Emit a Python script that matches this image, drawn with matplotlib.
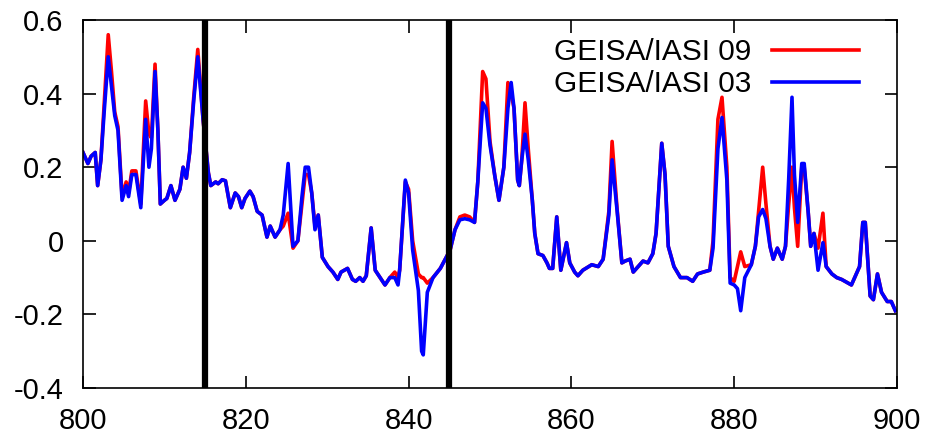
import numpy as np
import matplotlib
matplotlib.use("Agg")
import matplotlib.pyplot as plt

plt.rcParams['font.family'] = ['Liberation Sans', 'DejaVu Sans']

# wavenumber (cm-1) shared by both series
wn = [800.0, 800.6, 801.0, 801.5, 801.8, 802.2, 802.6, 803.1, 803.5, 803.9,
      804.3, 804.8, 805.3, 805.6, 806.0, 806.5, 807.1, 807.7, 808.1, 808.4,
      808.85, 809.2, 809.5, 810.0, 810.3, 810.8, 811.3, 811.9, 812.3, 812.7,
      813.1, 813.6, 814.1, 814.75, 815.4, 815.7, 816.3, 816.6, 817.1, 817.5,
      818.1, 818.7, 819.1, 819.5, 819.9, 820.5, 820.9, 821.4, 822.0, 822.6,
      823.0, 823.6, 824.2, 824.6, 825.2, 825.8, 826.4, 826.9, 827.3, 827.7,
      828.1, 828.5, 828.9, 829.4, 830.1, 830.7, 831.3, 831.7, 832.5, 833.1,
      833.5, 834.0, 834.4, 834.8, 835.4, 835.9, 836.5, 837.1, 837.7, 838.3,
      838.7, 838.9, 839.6, 840.0, 840.5, 841.2, 841.6, 841.8, 842.3, 843.0,
      843.9, 844.5, 845.1, 845.7, 846.3, 846.9, 847.5, 848.1, 848.5, 849.1,
      849.5, 850.0, 850.6, 851.1, 851.7, 852.2, 852.6, 852.95, 853.4, 853.6,
      853.9, 854.3, 854.7, 855.2, 855.5, 855.9, 856.5, 857.0, 857.3, 857.7,
      858.2, 858.7, 859.4, 859.8, 860.4, 860.8, 861.4, 862.5, 863.3, 863.9,
      864.6, 865.0, 865.6, 866.2, 866.6, 867.2, 867.6, 868.2, 868.8, 869.4,
      870.0, 870.4, 871.1, 871.5, 871.9, 872.6, 873.4, 874.2, 874.9, 875.5,
      876.2, 877.0, 877.4, 878.0, 878.5, 879.1, 879.5, 880.0, 880.4, 880.8,
      881.3, 882.1, 882.6, 883.0, 883.5, 883.9, 884.4, 884.8, 885.3, 885.9,
      886.3, 886.7, 887.1, 887.4, 887.8, 888.3, 888.6, 889.1, 889.4, 889.8,
      890.3, 890.9, 891.3, 892.0, 892.6, 893.2, 894.0, 894.4, 894.8, 895.4,
      895.8, 896.1, 896.7, 897.1, 897.6, 898.1, 898.8, 899.3, 899.8]

iasi03 = [0.24, 0.21, 0.23, 0.24, 0.15, 0.22, 0.35, 0.50, 0.42, 0.34,
          0.30, 0.11, 0.15, 0.12, 0.18, 0.18, 0.09, 0.33, 0.20, 0.25,
          0.46, 0.30, 0.10, 0.11, 0.115, 0.15, 0.11, 0.14, 0.20, 0.17,
          0.24, 0.38, 0.50, 0.33, 0.185, 0.15, 0.16, 0.155, 0.166, 0.163,
          0.09, 0.13, 0.12, 0.09, 0.115, 0.135, 0.12, 0.08, 0.07, 0.01,
          0.04, 0.01, 0.03, 0.07, 0.21, -0.015, 0.0, 0.12, 0.20, 0.20,
          0.13, 0.03, 0.07, -0.045, -0.07, -0.085, -0.105, -0.085, -0.075, -0.105,
          -0.11, -0.10, -0.11, -0.095, 0.035, -0.08, -0.10, -0.12, -0.10, -0.10,
          -0.12, -0.08, 0.165, 0.13, -0.025, -0.135, -0.30, -0.31, -0.14, -0.10,
          -0.075, -0.05, -0.025, 0.03, 0.057, 0.06, 0.057, 0.05, 0.16, 0.375,
          0.36, 0.26, 0.175, 0.11, 0.20, 0.36, 0.43, 0.36, 0.165, 0.15,
          0.22, 0.29, 0.22, 0.11, 0.02, -0.035, -0.04, -0.06, -0.075, -0.075,
          0.065, -0.08, -0.005, -0.06, -0.085, -0.095, -0.08, -0.065, -0.07, -0.05,
          0.07, 0.22, 0.085, -0.06, -0.055, -0.05, -0.085, -0.07, -0.055, -0.06,
          -0.035, 0.02, 0.265, 0.18, -0.015, -0.07, -0.10, -0.10, -0.11, -0.09,
          -0.085, -0.08, -0.02, 0.25, 0.335, 0.165, -0.115, -0.12, -0.13, -0.19,
          -0.10, -0.065, -0.015, 0.065, 0.085, 0.06, -0.015, -0.05, -0.02, -0.05,
          -0.015, 0.17, 0.39, 0.18, 0.05, 0.21, 0.21, 0.075, -0.015, 0.02,
          -0.08, -0.005, -0.07, -0.09, -0.10, -0.105, -0.115, -0.12, -0.10, -0.07,
          0.05, 0.05, -0.15, -0.16, -0.09, -0.14, -0.165, -0.165, -0.19]

iasi09 = [0.24, 0.21, 0.23, 0.24, 0.15, 0.22, 0.37, 0.56, 0.46, 0.35,
          0.31, 0.12, 0.16, 0.13, 0.19, 0.19, 0.10, 0.38, 0.29, 0.28,
          0.48, 0.30, 0.10, 0.11, 0.115, 0.15, 0.11, 0.14, 0.20, 0.17,
          0.24, 0.39, 0.52, 0.33, 0.185, 0.15, 0.16, 0.155, 0.166, 0.163,
          0.09, 0.13, 0.12, 0.09, 0.115, 0.135, 0.12, 0.08, 0.07, 0.01,
          0.04, 0.01, 0.03, 0.04, 0.075, -0.02, 0.0, 0.10, 0.18, 0.18,
          0.13, 0.04, 0.07, -0.045, -0.07, -0.085, -0.105, -0.085, -0.075, -0.105,
          -0.11, -0.10, -0.11, -0.095, 0.035, -0.08, -0.10, -0.12, -0.10, -0.085,
          -0.10, -0.08, 0.16, 0.14, 0.0, -0.09, -0.10, -0.10, -0.115, -0.10,
          -0.075, -0.05, -0.025, 0.03, 0.065, 0.07, 0.065, 0.05, 0.16, 0.46,
          0.44, 0.27, 0.175, 0.11, 0.20, 0.43, 0.40, 0.36, 0.165, 0.15,
          0.22, 0.375, 0.25, 0.11, 0.02, -0.035, -0.04, -0.06, -0.075, -0.075,
          0.065, -0.08, -0.005, -0.06, -0.085, -0.095, -0.08, -0.065, -0.07, -0.05,
          0.08, 0.27, 0.09, -0.06, -0.055, -0.05, -0.085, -0.07, -0.055, -0.06,
          -0.035, 0.02, 0.265, 0.18, -0.015, -0.07, -0.10, -0.10, -0.11, -0.09,
          -0.085, -0.08, 0.0, 0.33, 0.39, 0.20, -0.10, -0.11, -0.07, -0.03,
          -0.07, -0.065, -0.015, 0.08, 0.20, 0.10, -0.015, -0.05, -0.02, -0.05,
          -0.015, 0.10, 0.20, 0.09, -0.015, 0.20, 0.20, 0.075, -0.015, 0.02,
          -0.02, 0.075, -0.07, -0.09, -0.10, -0.105, -0.115, -0.12, -0.10, -0.07,
          0.05, 0.05, -0.15, -0.16, -0.09, -0.14, -0.165, -0.165, -0.19]

vlines = [815, 845]

fig = plt.figure(figsize=(9.27, 4.40), dpi=100)
ax = fig.add_axes([83/927, 1-388/440, 814/927, 368/440])

ax.plot(wn, iasi09, color='#ff0000', lw=2.6, label='GEISA/IASI 09')
ax.plot(wn, iasi03, color='#0000ff', lw=2.6, label='GEISA/IASI 03')
for v in vlines:
    ax.axvline(v, color='black', lw=4.5, zorder=5)

ax.set_xlim(800, 900)
ax.set_ylim(-0.4, 0.6)
ax.set_xticks(np.arange(800, 901, 20))
ax.set_yticks([-0.4, -0.2, 0, 0.2, 0.4, 0.6])
ax.set_yticklabels(['-0.4', '-0.2', '0', '0.2', '0.4', '0.6'])
ax.tick_params(direction='in', top=True, right=True, length=9, width=1.2,
               labelsize=21, pad=14)
ax.tick_params(axis='x', pad=14)
for s in ax.spines.values():
    s.set_linewidth(1.2)

ax.legend(loc='upper right', bbox_to_anchor=(859/927, 1-38/440),
          bbox_transform=fig.transFigure, frameon=False, markerfirst=False,
          fontsize=21.5, handlelength=2.9, handletextpad=0.7,
          labelspacing=0.14, borderaxespad=0, borderpad=0)

fig.savefig('out.png', dpi=100)
